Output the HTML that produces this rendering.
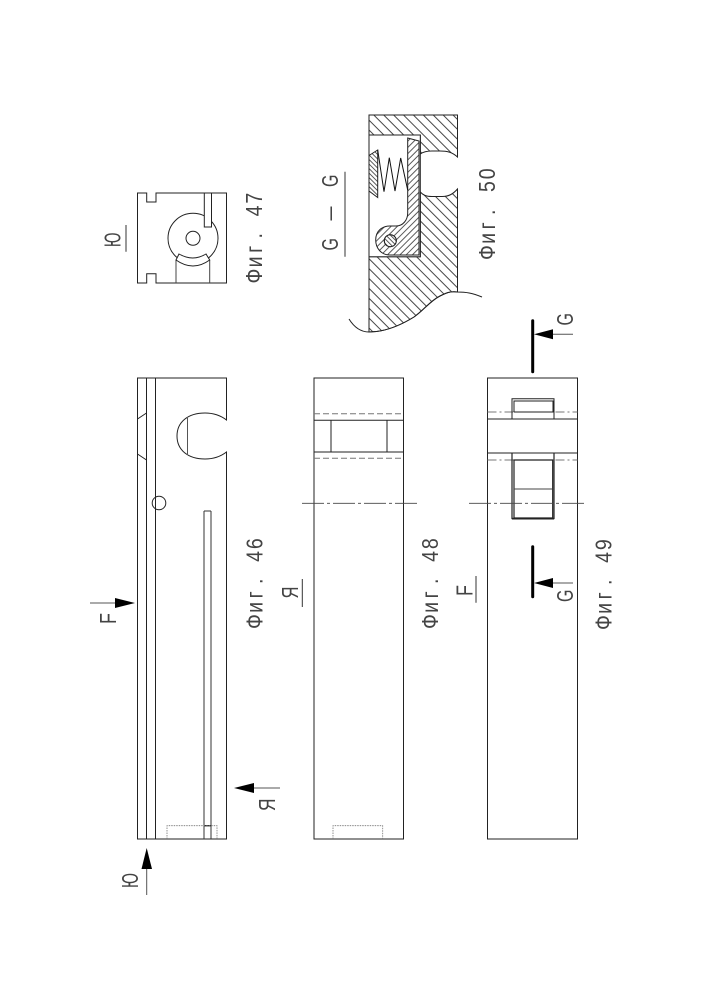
<!DOCTYPE html>
<html><head><meta charset="utf-8"><style>
html,body{margin:0;padding:0;background:#fff}
svg{display:block}
text{font-family:"Liberation Sans","DejaVu Sans",sans-serif;fill:#444}
.f{font-size:23px}
.l{font-size:23px}
</style></head><body>
<svg xmlns="http://www.w3.org/2000/svg" width="707" height="1000" viewBox="0 0 707 1000">
<defs>
<pattern id="w" width="7" height="7" patternUnits="userSpaceOnUse" patternTransform="rotate(-45)"><line x1="1" y1="0" x2="1" y2="7" stroke="#333" stroke-width=".9"/></pattern>
<pattern id="n" width="3.2" height="3.2" patternUnits="userSpaceOnUse" patternTransform="rotate(-45)"><line x1="1" y1="0" x2="1" y2="3.2" stroke="#333" stroke-width=".8"/></pattern>
<pattern id="s" width="4.4" height="4.4" patternUnits="userSpaceOnUse" patternTransform="rotate(45)"><line x1="1" y1="0" x2="1" y2="4.4" stroke="#333" stroke-width=".8"/></pattern>
</defs>
<g fill="none" stroke="#222" stroke-width="1">
<!-- Fig 46 -->
<rect x="137.5" y="378" width="89" height="461"/>
<path d="M146.5 378V839M155.5 378V839"/>
<path d="M137.5 419L146.5 413M137.5 454L146.5 460"/>
<rect x="226" y="421" width="2" height="30" fill="#fff" stroke="none"/>
<path d="M226.5 420C220 415 212 413 205 413C188 413 177 422 177 436C177 450 188 459 205 459C212 459 220 457 226.5 452" fill="#fff"/>
<path d="M187.5 417V455" stroke="#555"/>
<circle cx="159" cy="503" r="6.8" fill="none"/>
<path d="M204 511H211M204 511V839M211 511V839" stroke="#333"/>
<path d="M204 825.7H210.5" stroke-width="1.4"/>
<path d="M167 839V825.7H217V839" stroke="#777" stroke-width=".8" stroke-dasharray="1.5 1"/>
<!-- Fig 47 -->
<path d="M137.5 193H146.7V202H156V193H226.5V283H156V273.7H146.7V283H137.5Z"/>
<circle cx="193" cy="238.3" r="25"/>
<circle cx="193" cy="238.3" r="7"/>
<rect x="204.3" y="193" width="7.2" height="34" fill="#fff"/>
<path d="M176 283V260M209.7 283V260" stroke="#444"/>
<path d="M176 260Q193 272 209.7 260L206 254Q193 262 179 254Z" fill="#fff"/>
<path d="M126 225V251.7" stroke="#333"/>
<!-- Fig 50 -->
<path d="M369 115H457.5V157C452 152 447 151 440 151H432C426 151 423 152 420.3 154V135H369Z" fill="url(#w)"/>
<path d="M369 256.7H420.3V192C423 195 426 196.5 432 196.5H442C449 196.5 453 194 457.5 189V292C450 291 446 293 440 296C430 301 424 310 414 317C401 325 385 332 369 332Z" fill="url(#w)"/>
<path d="M369 135V256.7H420.3V135Z" fill="#fff"/>
<path d="M369 155.5L377.7 150V197.5L369 191Z" fill="url(#n)"/>
<path d="M407.7 138L419 141V255H390C381 255 375.7 248 375.7 240C375.7 231 382 226 390 226H396C403 226 407.7 220 407.7 213Z" fill="url(#s)"/>
<circle cx="390.3" cy="240.7" r="6" fill="#fff"/>
<circle cx="390.3" cy="240.7" r="6" fill="url(#n)"/>
<path d="M377.7 150L384 191.7L389.3 157.7L395 191L400.7 158L407.7 190" stroke="#111"/>
<path d="M482 297C472 293 466 292 457.5 292C450 291 446 293 440 296C430 301 424 310 414 317C401 325 385 332 369 332C361 332 354 327 349 319"/>
<path d="M345 171.7V256.7" stroke="#333"/>
<!-- Fig 48 -->
<rect x="314" y="378" width="89.5" height="461"/>
<path d="M314 420.3H403.5M314 452H403.5M331 420.3V452M387 420.3V452"/>
<path d="M314 413.7H403.5M314 458.3H403.5" stroke="#777" stroke-dasharray="6 3"/>
<path d="M302 503.3H417.7" stroke="#444" stroke-width=".8" stroke-dasharray="22 3 3 3"/>
<path d="M333 839V825.7H382.7V839" stroke="#777" stroke-width=".8" stroke-dasharray="1.5 1"/>
<path d="M302.3 579V607" stroke="#333"/>
<!-- Fig 49 -->
<rect x="487.5" y="378" width="90" height="461"/>
<path d="M487.5 419H577.5M487.5 453H577.5"/>
<path d="M487.5 412H577.5M487.5 460H577.5" stroke="#777" stroke-dasharray="9 3 2 3"/>
<path d="M512 419V398.7H554V419"/>
<path d="M514 412V401H553V412H514"/>
<path d="M512 453V518.5H554V453" stroke-width="1.2"/>
<path d="M514 460V518H552.7V460Z" stroke-width="1.2"/>
<path d="M514 489H552.7" stroke="#444"/>
<path d="M512 518.7H554" stroke-width="1.6"/>
<path d="M469 503.3H586" stroke="#444" stroke-width=".8" stroke-dasharray="22 3 3 3"/>
<path d="M532.7 320.7V371.7M532.7 546.7V596.7" stroke="#000" stroke-width="3" stroke-linecap="round"/>
<path d="M553 334.3H573M553 583H573" stroke="#555"/>
<path d="M476 576V602.7" stroke="#333"/>
<!-- arrows -->
<path d="M146.7 868V895M254 788H280M115 603H90" stroke="#555"/>
</g>
<g fill="#000">
<path d="M146.7 848L141.5 869H152Z"/>
<path d="M234 788L254 783V793Z"/>
<path d="M135 603L115 598V608Z"/>
<path d="M534 334.3L553 329.3V339.3Z"/>
<path d="M534 583L553 578V588Z"/>
</g>
<text class="f" transform="translate(262 283.5) rotate(-90) scale(.85 1)" x="0 19 36 53 71 79 94">Фиг. 47</text>
<text class="f" transform="translate(262.5 629) rotate(-90) scale(.85 1)" x="0 19 36 53 71 79 94">Фиг. 46</text>
<text class="f" transform="translate(438 629) rotate(-90) scale(.85 1)" x="0 19 36 53 71 79 94">Фиг. 48</text>
<text class="f" transform="translate(611.5 630) rotate(-90) scale(.85 1)" x="0 19 36 53 71 79 94">Фиг. 49</text>
<text class="f" transform="translate(495 260) rotate(-90) scale(.85 1)" x="0 19 36 53 71 80 95">Фиг. 50</text>
<text class="l" transform="translate(120.5 247) rotate(-90)" textLength="14.5" lengthAdjust="spacingAndGlyphs">Ю</text>
<text class="l" transform="translate(138 888) rotate(-90)" textLength="15" lengthAdjust="spacingAndGlyphs">Ю</text>
<text class="l" transform="translate(275 811) rotate(-90)" textLength="12.5" lengthAdjust="spacingAndGlyphs">Я</text>
<text class="l" transform="translate(298 598.5) rotate(-90)" textLength="12" lengthAdjust="spacingAndGlyphs">Я</text>
<text class="l" transform="translate(116 624) rotate(-90)" textLength="11" lengthAdjust="spacingAndGlyphs">F</text>
<text class="l" transform="translate(472.5 596) rotate(-90)" textLength="11" lengthAdjust="spacingAndGlyphs">F</text>
<text class="l" transform="translate(338 250.5) rotate(-90)" textLength="12.5" lengthAdjust="spacingAndGlyphs">G</text>
<text class="l" transform="translate(337 220.5) rotate(-90)" textLength="14" lengthAdjust="spacingAndGlyphs">–</text>
<text class="l" transform="translate(338 187) rotate(-90)" textLength="12.5" lengthAdjust="spacingAndGlyphs">G</text>
<text class="l" transform="translate(573 325.5) rotate(-90)" textLength="12.5" lengthAdjust="spacingAndGlyphs">G</text>
<text class="l" transform="translate(573 602) rotate(-90)" textLength="12.5" lengthAdjust="spacingAndGlyphs">G</text>
</svg>
</body></html>
